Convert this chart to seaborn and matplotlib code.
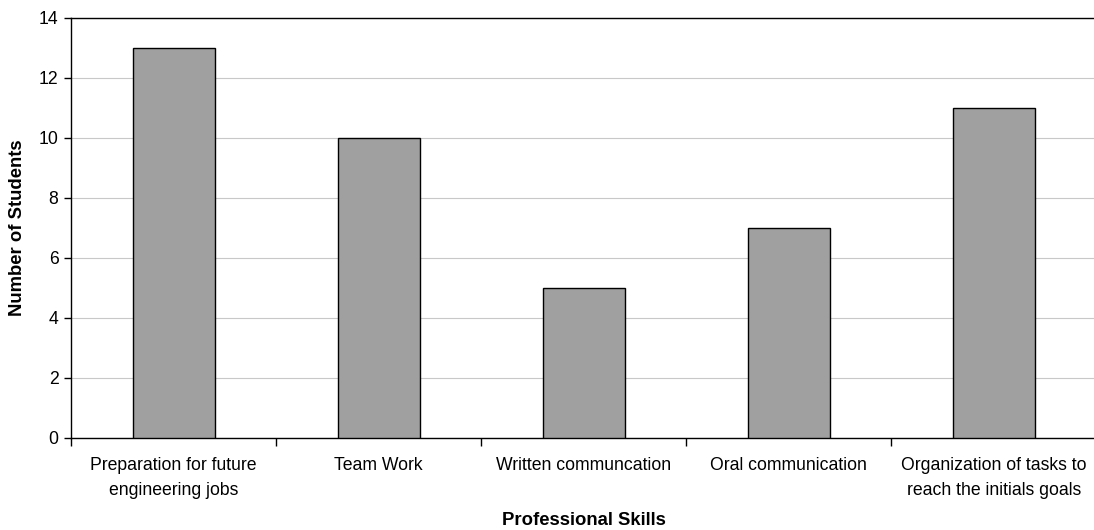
import matplotlib
matplotlib.use("Agg")
import matplotlib.pyplot as plt
import seaborn as sns
import pandas as pd
import numpy as np

categories = ["Preparation for future\nengineering jobs", "Team Work", "Written communcation",
              "Oral communication", "Organization of tasks to\nreach the initials goals"]
values = [13, 10, 5, 7, 11]
yticks = [0, 2, 4, 6, 8, 10, 12, 14]

sns.set_theme(style="white")
plt.rcParams['font.family'] = ['Liberation Sans', 'DejaVu Sans']
plt.rcParams['text.color'] = 'black'
plt.rcParams['axes.labelcolor'] = 'black'
plt.rcParams['xtick.color'] = 'black'
plt.rcParams['ytick.color'] = 'black'

df = pd.DataFrame({"skill": categories, "n": values})

fig = plt.figure(figsize=(10.94, 5.30), dpi=100)
ax = fig.add_axes([71/1094, 1-438/530, 1-71/1094+0.002, (438-18)/530])
sns.barplot(data=df, x="skill", y="n", color="#A0A0A0", saturation=1,
            edgecolor="black", linewidth=1.0, width=0.4, ax=ax, zorder=3)

ax.set_ylim(0, 14)
ax.set_xlim(-0.5, len(categories) - 0.5)
ax.set_yticks(yticks)
ax.set_yticklabels([str(t) for t in yticks], fontsize=12.7)
ax.yaxis.grid(True, color="#C8C8C8", linewidth=0.8, zorder=0)
ax.xaxis.grid(False)
ax.set_axisbelow(True)

ax.set_xticks(range(len(categories)))
ax.set_xticklabels(categories, fontsize=12.7, linespacing=1.55)
ax.tick_params(axis="x", which="major", bottom=False, length=0, pad=14)
ax.set_xticks(np.arange(-0.5, len(categories), 1.0), minor=True)
ax.tick_params(axis="x", which="minor", bottom=True, length=6, width=1, color="black", direction="out")
ax.tick_params(axis="y", left=True, length=5, width=1, color="black", direction="out", pad=4)

for s in ["left", "bottom", "top"]:
    ax.spines[s].set_visible(True)
    ax.spines[s].set_color("black")
    ax.spines[s].set_linewidth(1.0)
ax.spines["right"].set_visible(False)

ax.set_xlabel("Professional Skills", fontsize=13.3, fontweight="bold", labelpad=10)
ax.set_ylabel("Number of Students", fontsize=13.3, fontweight="bold", labelpad=9)

fig.savefig("out.png", dpi=100, facecolor="white")
